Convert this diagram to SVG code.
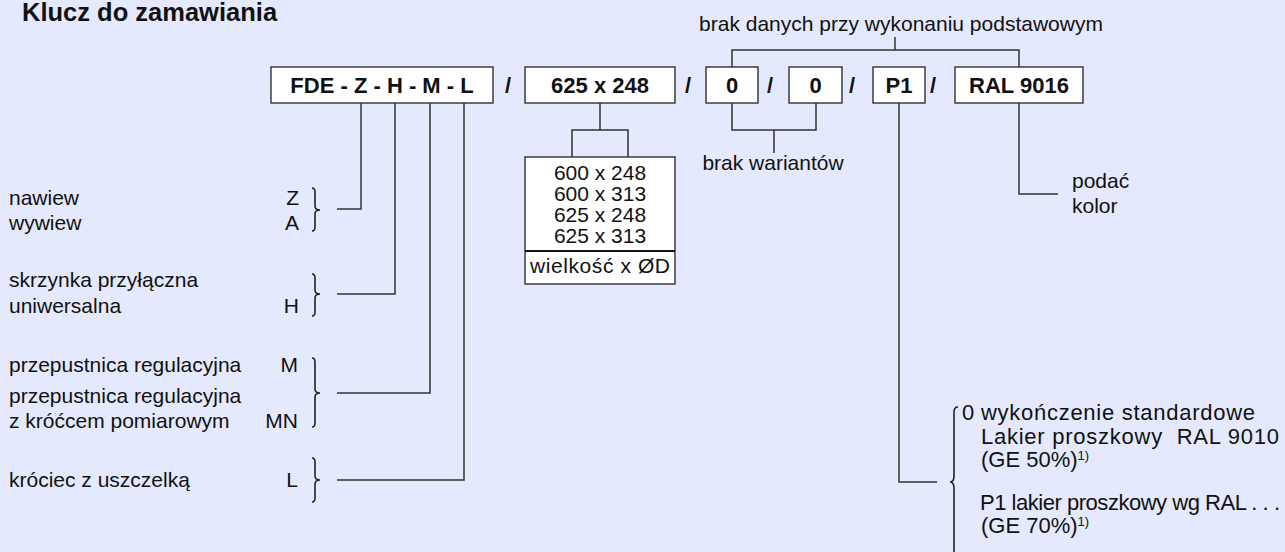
<svg xmlns="http://www.w3.org/2000/svg" width="1285" height="552" viewBox="0 0 1285 552">
<style>
.t{font-family:"Liberation Sans",Arial,sans-serif;font-size:21px;fill:#111}
.b{font-family:"Liberation Sans",Arial,sans-serif;font-size:22px;font-weight:bold;fill:#111}
.r{font-size:22px}
.ttl{font-size:25.5px}
.box{fill:#fff;stroke:#222;stroke-width:1.3}
.ln{fill:none;stroke:#333;stroke-width:1.5}
.br{fill:none;stroke:#222;stroke-width:1.6}
.sup{font-size:13px}
</style>
<rect width="1285" height="552" fill="#E5E9FD"/>
<text class="b ttl" x="22" y="21">Klucz do zamawiania</text>

<g id="code-main"><rect class="box" x="271" y="67" width="222" height="36"/><text class="b" x="382" y="93" text-anchor="middle">FDE - Z - H - M - L</text></g>
<g id="code-size"><rect class="box" x="525" y="67" width="150" height="36"/><text class="b" x="600" y="93" text-anchor="middle">625 x 248</text></g>
<g id="code-0a"><rect class="box" x="706" y="67" width="52" height="36"/><text class="b" x="732" y="93" text-anchor="middle">0</text></g>
<g id="code-0b"><rect class="box" x="789" y="67" width="53" height="36"/><text class="b" x="815.5" y="93" text-anchor="middle">0</text></g>
<g id="code-p1"><rect class="box" x="873" y="67" width="52" height="36"/><text class="b" x="899" y="93" text-anchor="middle">P1</text></g>
<g id="code-ral"><rect class="box" x="955" y="67" width="128" height="36"/><text class="b" x="1019" y="93" text-anchor="middle">RAL 9016</text></g>
<g id="slashes">
<text class="b" x="508" y="93" text-anchor="middle">/</text>
<text class="b" x="688" y="93" text-anchor="middle">/</text>
<text class="b" x="770" y="93" text-anchor="middle">/</text>
<text class="b" x="852" y="93" text-anchor="middle">/</text>
<text class="b" x="933" y="93" text-anchor="middle">/</text>
</g>

<g id="sizes">
<rect class="box" x="525" y="157" width="150" height="127"/>
<line x1="525" y1="251" x2="675" y2="251" stroke="#111" stroke-width="2"/>
<text class="t" x="600" y="180" text-anchor="middle">600 x 248</text>
<text class="t" x="600" y="201" text-anchor="middle">600 x 313</text>
<text class="t" x="600" y="222" text-anchor="middle">625 x 248</text>
<text class="t" x="600" y="243" text-anchor="middle">625 x 313</text>
<text class="t" x="600" y="273" text-anchor="middle" textLength="140">wielkość x ØD</text>
</g>

<g id="note-basic"><text class="t" x="901" y="31" text-anchor="middle">brak danych przy wykonaniu podstawowym</text></g>
<g id="note-variants"><text class="t" x="773" y="170" text-anchor="middle">brak wariantów</text></g>
<g id="note-color"><text class="t" x="1072" y="188">podać</text><text class="t" x="1072" y="213">kolor</text></g>

<g id="opt-za">
<text class="t" x="9" y="205">nawiew</text><text class="t" x="9" y="230">wywiew</text>
<text class="t" x="299" y="205" text-anchor="end">Z</text><text class="t" x="299" y="230" text-anchor="end">A</text>
<path class="br" d="M312,188 q3,0 3,4 V206 q0,4 5,4 q-5,0 -5,4 V227 q0,4 -3,4"/>
</g>
<g id="opt-h">
<text class="t" x="9" y="287">skrzynka przyłączna</text><text class="t" x="9" y="313">uniwersalna</text>
<text class="t" x="299" y="313" text-anchor="end">H</text>
<path class="br" d="M312,274 q3,0 3,4 V290 q0,4 5,4 q-5,0 -5,4 V312 q0,4 -3,4"/>
</g>
<g id="opt-m">
<text class="t" x="9" y="372">przepustnica regulacyjna</text><text class="t" x="9" y="403">przepustnica regulacyjna</text><text class="t" x="9" y="428">z króćcem pomiarowym</text>
<text class="t" x="298" y="372" text-anchor="end">M</text><text class="t" x="298" y="428" text-anchor="end">MN</text>
<path class="br" d="M312,358 q3,0 3,4 V389 q0,4 5,4 q-5,0 -5,4 V423 q0,4 -3,4"/>
</g>
<g id="opt-l">
<text class="t" x="9" y="487">króciec z uszczelką</text>
<text class="t" x="298" y="487" text-anchor="end">L</text>
<path class="br" d="M312,458 q3,0 3,4 V476 q0,4 5,4 q-5,0 -5,4 V498 q0,4 -3,4"/>
</g>
<g id="opt-p1">
<path class="br" d="M958,407 q-4,0 -4,5 V476 q0,6 -4,6 q4,0 4,6 V552 q0,5 4,5"/>
<text class="t r" x="962" y="420">0</text>
<text class="t r" x="981" y="420" textLength="274">wykończenie standardowe</text>
<text class="t r" x="981" y="444" textLength="298" xml:space="preserve">Lakier proszkowy  RAL 9010</text>
<text class="t r" x="981" y="467">(GE 50%)<tspan class="sup" dy="-7">1)</tspan></text>
<text class="t r" x="980" y="510" textLength="300">P1 lakier proszkowy wg RAL . . .</text>
<text class="t r" x="981" y="533">(GE 70%)<tspan class="sup" dy="-7">1)</tspan></text>
</g>

<g id="connectors">
<path class="ln" d="M361,103 V209 H337"/>
<path class="ln" d="M395,103 V294 H337"/>
<path class="ln" d="M430,103 V393 H337"/>
<path class="ln" d="M464,103 V480 H337"/>
<path class="ln" d="M600,103 V130 M572,157 V130 H628 V157"/>
<path class="ln" d="M732,103 V130 H816 V103 M774,130 V153"/>
<path class="ln" d="M895,37 V50 M732,67 V50 H1019 V67"/>
<path class="ln" d="M1019,103 V194 H1058"/>
<path class="ln" d="M899,103 V482 H937"/>
</g>
</svg>
